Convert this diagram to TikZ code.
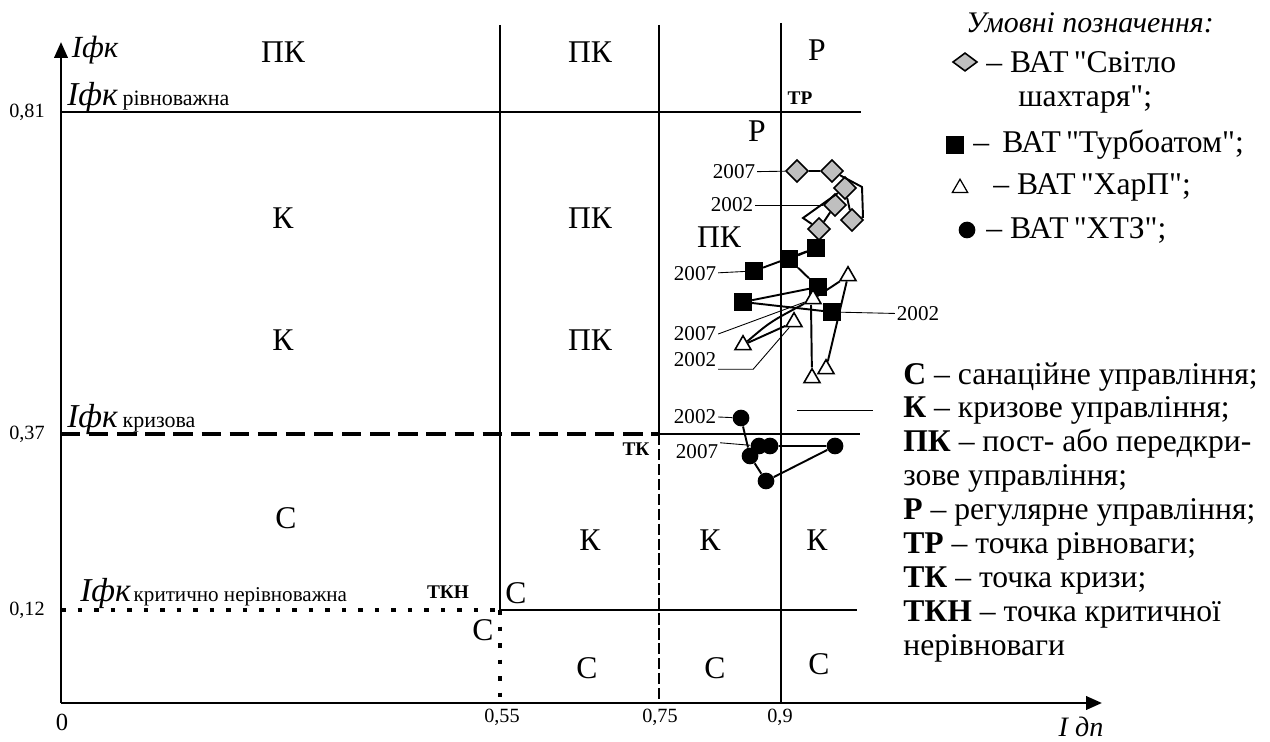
\documentclass[tikz,border=0pt]{standalone}
\usepackage{fontspec}
\setmainfont{Liberation Serif}[Ligatures=TeXOff]
\usetikzlibrary{arrows.meta,shapes.geometric,positioning}

\begin{document}
\begin{tikzpicture}[x=0.02cm,y=-0.02cm,
    axis/.style={line width=1.6pt,-{Triangle[length=9pt,width=7.5pt]}},
    bound/.style={line width=1.1pt},
    crisis/.style={line width=1.8pt,dash pattern=on 11pt off 5pt},
    dotline/.style={line width=2.6pt,dash pattern=on 2.6pt off 6.8pt},
    thindash/.style={line width=0.8pt,dash pattern=on 6.5pt off 2pt},
    track/.style={line width=1.1pt},
    lead/.style={line width=0.5pt},
    zone/.style={font=\fontsize{18}{18}\selectfont},
    tick/.style={font=\fontsize{11.5}{12}\selectfont},
    yr/.style={font=\fontsize{12}{12}\selectfont,inner sep=1pt},
    pnt/.style={font=\fontsize{11}{11}\selectfont\bfseries},
    ax/.style={font=\fontsize{17.5}{18}\selectfont\itshape},
    leg/.style={font=\fontsize{18}{20}\selectfont,anchor=west,inner sep=0pt},
    dia/.style={diamond,draw,fill=black!25,line width=0.9pt,inner sep=0pt,minimum size=13pt},
    sq/.style={rectangle,fill=black,inner sep=0pt,minimum size=10pt},
    tri/.style={regular polygon,regular polygon sides=3,draw,fill=white,line width=0.9pt,inner sep=0pt,minimum size=10.5pt},
    dot/.style={circle,fill=black,inner sep=0pt,minimum size=9.5pt}]

    \useasboundingbox (0,0) rectangle (1270,742);

    % axes
    \coordinate (o) at (61,703);
    \coordinate (ytop) at (61,42);
    \coordinate (xend) at (1102,703);
    \draw [axis] (o) -- (ytop);
    \draw [axis] (o) -- (xend);

    % zone boundaries
    \draw [bound] (500,25) -- (500,610);
    \draw [dotline] (500,610) -- (500,703);
    \draw [bound] (659,25) -- (659,434);
    \draw [thindash] (659,434) -- (659,703);
    \draw [bound] (781,23) -- (781,703);
    \draw [bound] (61,112) -- (861,112);
    \draw [crisis] (61,434) -- (659,434);
    \draw [bound] (659,434) -- (860,434);
    \draw [dotline] (61,610) -- (500,610);
    \draw [bound] (500,610) -- (857,610);
    \draw [lead] (797,410) -- (873,410);

    % axis labels
    \node [ax] (yl) at (95,50) {Iфк};
    \node [ax,font=\fontsize{16}{16}\selectfont\itshape] (xl) at (1081,727) {I дп};
    \node [font=\fontsize{14}{14}\selectfont] (zero) at (62,722) {0};
    \node [tick] (v81) at (27,112) {0,81};
    \node [tick] (v37) at (27,434) {0,37};
    \node [tick] (v12) at (27,610) {0,12};
    \node [tick] (h55) at (502,717) {0,55};
    \node [tick] (h75) at (660,717) {0,75};
    \node [tick] (h90) at (780,717) {0,9};
    \node [anchor=base west,inner sep=0pt] (lr) at (67,106)
        {{\fontsize{19}{19}\selectfont\itshape Iфк}\;{\fontsize{12.5}{13}\selectfont рівноважна}};
    \node [anchor=base west,inner sep=0pt] (lk) at (67,428)
        {{\fontsize{19}{19}\selectfont\itshape Iфк}\;{\fontsize{12.5}{13}\selectfont кризова}};
    \node [anchor=base west,inner sep=0pt] (ln) at (80,601)
        {{\fontsize{19}{19}\selectfont\itshape Iфк}\,{\fontsize{12}{13}\selectfont критично нерівноважна}};

    % zones
    \node [zone] (z1) at (283,52) {ПК};
    \node [zone] (z2) at (590,52) {ПК};
    \node [zone] (z3) at (817,50) {Р};
    \node [zone] (z4) at (757,131) {Р};
    \node [zone] (z5) at (283,218) {К};
    \node [zone] (z6) at (590,218) {ПК};
    \node [zone] (z7) at (719,237) {ПК};
    \node [zone] (z8) at (283,340) {К};
    \node [zone] (z9) at (590,340) {ПК};
    \node [zone] (z10) at (286,518) {С};
    \node [zone] (z11) at (590,540) {К};
    \node [zone] (z12) at (710,540) {К};
    \node [zone] (z13) at (817,540) {К};
    \node [zone] (z14) at (516,593) {С};
    \node [zone] (z15) at (483,630) {С};
    \node [zone] (z16) at (587,668) {С};
    \node [zone] (z17) at (715,668) {С};
    \node [zone] (z18) at (819,664) {С};
    \node [pnt] (tr) at (800,98) {ТР};
    \node [pnt] (tk) at (636,449) {ТК};
    \node [pnt] (tkn) at (448,592) {ТКН};

    % Svitlo shakhtarya
    \node [dia] (d1) at (797,171) {};
    \node [dia] (d2) at (832,171) {};
    \node [dia] (d5) at (852,220) {};
    \node [dia] (d3) at (845,188) {};
    \node [dia] (d4) at (835,205) {};
    \node [dia] (d6) at (819,229) {};
    \draw [track] (d4) -- (d6);
    \draw [track] (d6) -- (803,218) -- (d3);
    \draw [track] (d3) -- (d5);
    \draw [track] (d5) -- (863,217) -- (862,187) -- (d2);
    \draw [track] (d2) -- (d1);

    % Turboatom
    \node [sq] (s1) at (754,271) {};
    \node [sq] (s2) at (789,259) {};
    \node [sq] (s3) at (816,248) {};
    \node [sq] (s4) at (818,287) {};
    \node [sq] (s5) at (743,302) {};
    \node [sq] (s6) at (832,312) {};
    \draw [track] (s6) -- (s5) -- (s4) -- (s2) -- (s3);
    \draw [track] (s3) -- (s1);

    % KharP
    \node [tri] (t1) at (848,276) {};
    \node [tri] (t2) at (813,299) {};
    \node [tri] (t3) at (794,322) {};
    \node [tri] (t4) at (743,345) {};
    \node [tri] (t5) at (812,378) {};
    \node [tri] (t6) at (826,369) {};
    \draw [track] (t3) -- (t4);
    \draw [track] (t4) .. controls (770,322) .. (t2);
    \draw [track] (811,305) -- (t5);
    \draw [track] (t6) -- (t1) -- (t2);

    % KhTZ
    \node [dot] (c1) at (741,418) {};
    \node [dot] (c2) at (759,446) {};
    \node [dot] (c3) at (770,446) {};
    \node [dot] (c4) at (750,456) {};
    \node [dot] (c5) at (766,481) {};
    \node [dot] (c6) at (835,446) {};
    \draw [track] (c1) -- (c4) -- (c5) -- (c6) -- (c3);

    % years
    \node [yr] (yd7) at (734,172) {2007};
    \node [yr] (yd2) at (732,205) {2002};
    \node [yr] (ys7) at (695,274) {2007};
    \node [yr] (ys2) at (918,314) {2002};
    \node [yr] (yt7) at (695,334) {2007};
    \node [yr] (yt2) at (695,360) {2002};
    \node [yr] (yc2) at (695,417) {2002};
    \node [yr] (yc7) at (697,452) {2007};
    \draw [lead] (yd7) -- (d1);
    \draw [lead] (yd2) -- (d4);
    \draw [lead] (ys7) -- (s1);
    \draw [lead] (ys2) -- (s6);
    \draw [lead] (yt7.east) -- (t2);
    \draw [lead] (yt2.south east) -- +(35,0) -- (t3);
    \draw [lead] (yc2.east) -- (c1);
    \draw [lead] (yc7.north east) -- (c2);

    % legend
    \node [font=\fontsize{17}{18}\selectfont\itshape] (hdr) at (1090,23) {Умовні позначення:};
    \node [dia,minimum width=14pt,minimum height=10.5pt] (ld) at (965,62) {};
    \node [leg] (ldt) at (986,62) {– ВАТ\,"Світло};
    \node [leg] (ldt2) at (1018,100) {шахтаря";};
    \node [sq,minimum size=10.5pt] (ls) at (955,145) {};
    \node [leg] (lst) at (973,145) {–\, ВАТ\,"Турбоатом";};
    \node [tri,minimum size=10pt,line width=0.7pt] (lt) at (960,188) {};
    \node [leg] (ltt) at (993,187) {– ВАТ\,"ХарП";};
    \node [dot] (lc) at (967,230) {};
    \node [leg] (lct) at (986,230) {– ВАТ\,"ХТЗ";};

    \node [anchor=north west,align=left,inner sep=0pt,
           font=\fontsize{18}{19.3}\selectfont] (abbr) at (903,362)
        {\textbf{С} – санаційне управління;\\
         \textbf{К} – кризове управління;\\
         \textbf{ПК} – пост- або передкри-\\
         зове управління;\\
         \textbf{Р} – регулярне управління;\\
         \textbf{ТР} – точка рівноваги;\\
         \textbf{ТК} – точка кризи;\\
         \textbf{ТКН} – точка критичної\\
         нерівноваги};
\end{tikzpicture}
\end{document}
